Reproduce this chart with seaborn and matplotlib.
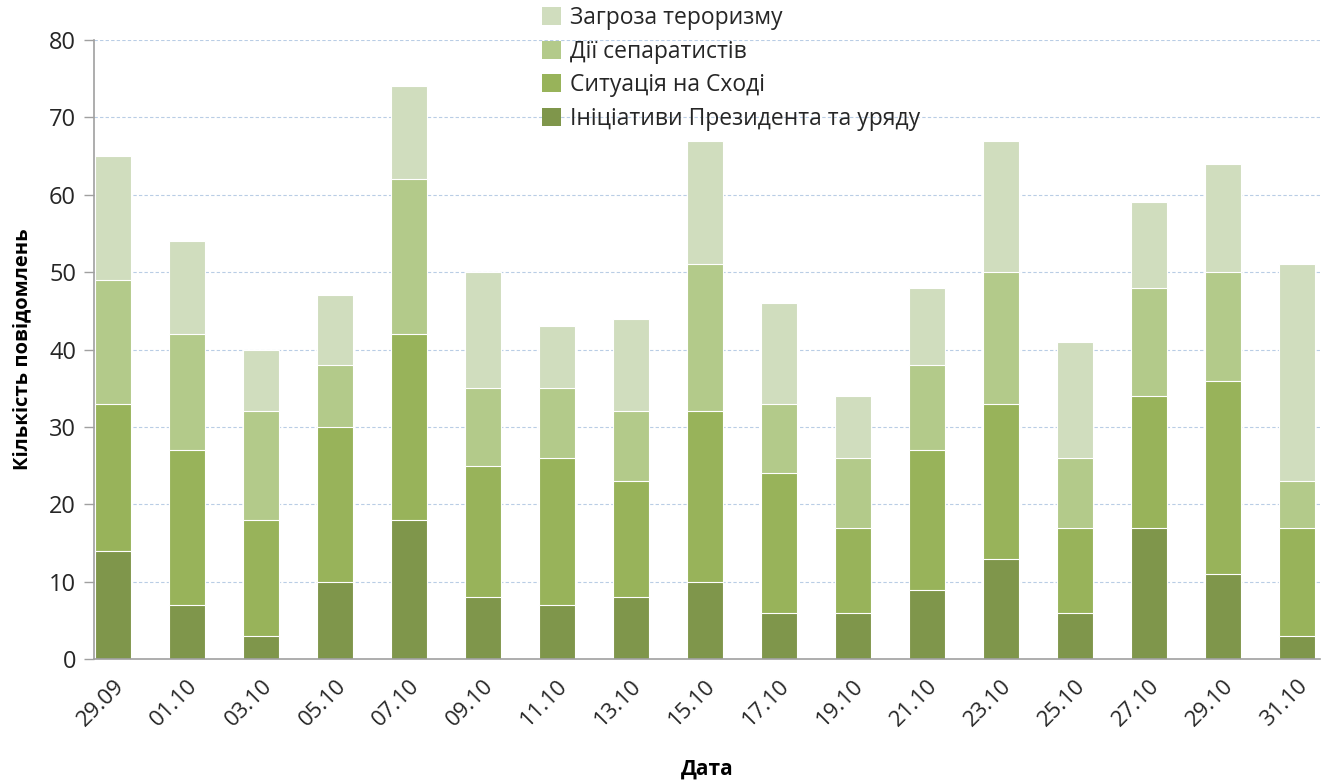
import matplotlib
matplotlib.use("Agg")
import matplotlib.pyplot as plt
from matplotlib.patches import Patch
import numpy as np
import pandas as pd
import seaborn as sns

dates = ["29.09", "01.10", "03.10", "05.10", "07.10", "09.10", "11.10", "13.10", "15.10",
         "17.10", "19.10", "21.10", "23.10", "25.10", "27.10", "29.10", "31.10"]
initiatives = [14, 7, 3, 10, 18, 8, 7, 8, 10, 6, 6, 9, 13, 6, 17, 11, 3]
east = [19, 20, 15, 20, 24, 17, 19, 15, 22, 18, 11, 18, 20, 11, 17, 25, 14]
separatists = [16, 15, 14, 8, 20, 10, 9, 9, 19, 9, 9, 11, 17, 9, 14, 14, 6]
terrorism = [16, 12, 8, 9, 12, 15, 8, 12, 16, 13, 8, 10, 17, 15, 11, 14, 28]

series_names = ["Ініціативи Президента та уряду", "Ситуація на Сході",
                "Дії сепаратистів", "Загроза тероризму"]
colors = ["#7f964b", "#98b35a", "#b3ca8a", "#d0ddbe"]

sns.set_theme(style="white")
plt.rcParams["font.family"] = ["Open Sans", "DejaVu Sans"]

fig = plt.figure(figsize=(13.25, 7.82), dpi=100)
ax = fig.add_axes([0.071, 0.157, 0.925, 0.792])

# cumulative stacks, drawn from the tallest down so each layer sits on the one below
stack = np.cumsum(np.array([initiatives, east, separatists, terrorism]), axis=0)
for level in range(3, -1, -1):
    df = pd.DataFrame({"date": dates, "value": stack[level]})
    sns.barplot(data=df, x="date", y="value", color=colors[level], width=0.49,
                saturation=1, edgecolor="white", linewidth=0.8, ax=ax, zorder=2)

ax.set_ylim(0, 80)
ax.set_xlim(-0.26, 16.31)
ax.set_yticks(range(0, 81, 10))
ax.yaxis.grid(True, color="#b9cde5", linestyle=(0, (3, 2)), linewidth=0.8, zorder=0)
ax.set_axisbelow(True)

for side in ["top", "right"]:
    ax.spines[side].set_visible(False)
for side in ["left", "bottom"]:
    ax.spines[side].set_color("#a0a0a0")
    ax.spines[side].set_linewidth(1.2)

ax.tick_params(axis="y", which="both", left=True, length=7, width=1, color="#a0a0a0",
               labelsize=17, labelcolor="#262626", pad=6)
ax.tick_params(axis="x", bottom=False, labelsize=16, labelcolor="#262626", pad=6)
plt.setp(ax.get_xticklabels(), rotation=45, ha="right", rotation_mode="anchor")

ax.set_ylabel("Кількість повідомлень", fontsize=14.5, fontweight="bold", color="black", labelpad=12)
ax.set_xlabel("Дата", fontsize=15, fontweight="bold", color="black", labelpad=20)

handles = [Patch(facecolor=colors[i], edgecolor="none") for i in range(3, -1, -1)]
labels = [series_names[i] for i in range(3, -1, -1)]
fig.legend(handles, labels, loc="upper left", bbox_to_anchor=(0.402, 1.004),
           frameon=False, fontsize=16.5, handlelength=0.85, handleheight=0.85,
           handletextpad=0.4, labelspacing=0.42, borderaxespad=0)

fig.savefig("out.png", dpi=100)
